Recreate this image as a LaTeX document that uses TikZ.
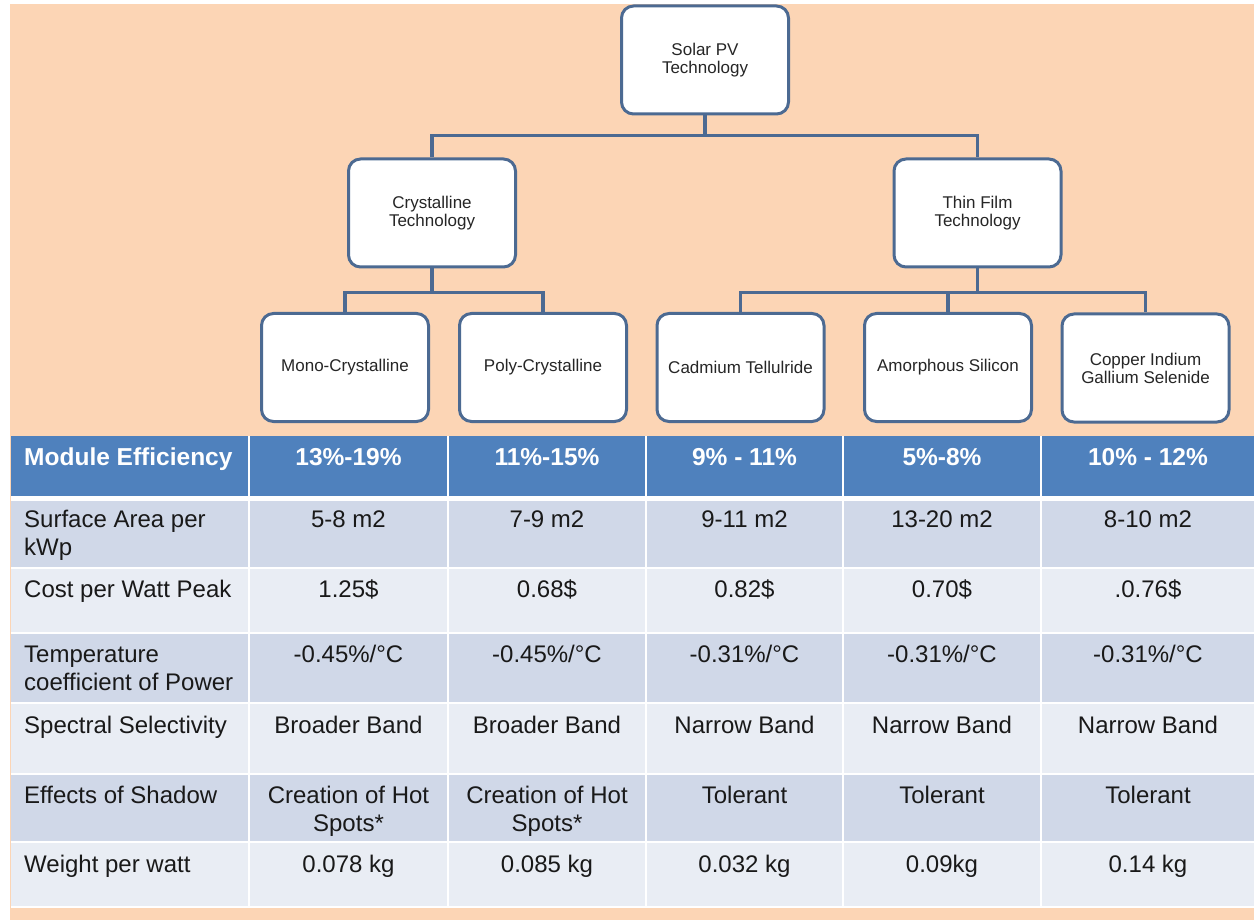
\documentclass[tikz,border=0pt]{standalone}
\usepackage{fontspec}
\setmainfont{Liberation Sans}
\definecolor{peach}{RGB}{252,213,181}
\definecolor{boxline}{RGB}{76,106,146}
\definecolor{hdr}{RGB}{79,129,189}
\definecolor{rowdark}{RGB}{208,216,232}
\definecolor{rowlight}{RGB}{233,237,244}
\newcommand\twoline[3]{\begin{tabular}[t]{@{}#1@{}}#2\\#3\end{tabular}}
\begin{document}
\begin{tikzpicture}[x=1pt,y=-1pt,
  tbox/.style={draw=boxline, line width=3pt, fill=white, rounded corners=12pt,
    minimum width=167pt, minimum height=108pt, align=center,
    font=\fontsize{17}{18}\selectfont, text=black!85, inner sep=0pt},
  conn/.style={draw=boxline, line width=3.5pt},
  cell/.style={anchor=base, font=\fontsize{24}{28}\selectfont, inner sep=0pt, text=black!90},
  lcell/.style={cell, anchor=base west},
  hcell/.style={anchor=base, font=\fontsize{24.5}{28}\selectfont\bfseries, inner sep=0pt, text=white},
  grid/.style={draw=white, line width=1.6pt}]
\useasboundingbox (0,0) rectangle (1254,920);
\fill[white] (0,0) rectangle (1254,920);
\fill[peach] (10,4) rectangle (1254,920);

% ---------- tree ----------
\node[tbox] (root)   at (705,60)    {Solar PV\\Technology};
\node[tbox] (cryst)  at (432,213)   {Crystalline\\Technology};
\node[tbox] (thin)   at (977.5,213) {Thin Film\\Technology};
\node[tbox] (mono)   at (345,367.5) {Mono-Crystalline};
\node[tbox] (poly)   at (543,367.5) {Poly-Crystalline};
\node[tbox] (cad)    at (740.5,367.5) {Cadmium Tellulride};
\node[tbox] (amor)   at (948,367.5) {Amorphous Silicon};
\node[tbox] (cigs)   at (1145.5,368) {Copper Indium\\Gallium Selenide};

\draw[conn] (root.south) -- ++(0,20) -| (cryst.north);
\draw[conn] (root.south) -- ++(0,20) -| (thin.north);
\draw[conn] (cryst.south) -- ++(0,24) -| (mono.north);
\draw[conn] (cryst.south) -- ++(0,24) -| (poly.north);
\draw[conn] (thin.south) -- ++(0,24) -| (cad.north);
\draw[conn] (thin.south) -- ++(0,24) -| (amor.north);
\draw[conn] (thin.south) -- ++(0,24) -| (cigs.north);

% ---------- table ----------
\fill[hdr] (11,436) rectangle (1254,496);
\fill[white] (11,496) rectangle (1254,501);
\fill[rowdark]  (11,501) rectangle (1254,568);
\fill[rowlight] (11,568) rectangle (1254,633);
\fill[rowdark]  (11,633) rectangle (1254,703);
\fill[rowlight] (11,703) rectangle (1254,774);
\fill[rowdark]  (11,774) rectangle (1254,842);
\fill[rowlight] (11,842) rectangle (1254,907);
\foreach \y in {568,633,703,774,842,907} \draw[grid] (11,\y) -- (1254,\y);
\foreach \x in {249,448,646,843,1041} \draw[grid] (\x,436) -- (\x,907);

% header
\node[hcell, anchor=base west] (h0) at (24,465) {Module Efficiency};
\node[hcell] (h1) at (348.5,465) {13\%-19\%};
\node[hcell] (h2) at (547,465)   {11\%-15\%};
\node[hcell] (h3) at (744.5,465) {9\% - 11\%};
\node[hcell] (h4) at (942,465)   {5\%-8\%};
\node[hcell] (h5) at (1148,465)  {10\% - 12\%};

% row 1
\node[lcell] (a0) at (24,527) {\twoline{l}{Surface Area per}{kWp}};
\node[cell] (a1) at (348.5,527) {5-8 m2};
\node[cell] (a2) at (547,527)   {7-9 m2};
\node[cell] (a3) at (744.5,527) {9-11 m2};
\node[cell] (a4) at (942,527)   {13-20 m2};
\node[cell] (a5) at (1148,527)  {8-10 m2};

% row 2
\node[lcell] (b0) at (24,597) {Cost per Watt Peak};
\node[cell] (b1) at (348.5,597) {1.25\$};
\node[cell] (b2) at (547,597)   {0.68\$};
\node[cell] (b3) at (744.5,597) {0.82\$};
\node[cell] (b4) at (942,597)   {0.70\$};
\node[cell] (b5) at (1148,597)  {.0.76\$};

% row 3
\node[lcell] (c0) at (24,662) {\twoline{l}{Temperature}{coefficient of Power}};
\node[cell] (c1) at (348.5,662) {-0.45\%/°C};
\node[cell] (c2) at (547,662)   {-0.45\%/°C};
\node[cell] (c3) at (744.5,662) {-0.31\%/°C};
\node[cell] (c4) at (942,662)   {-0.31\%/°C};
\node[cell] (c5) at (1148,662)  {-0.31\%/°C};

% row 4
\node[lcell] (d0) at (24,733) {Spectral Selectivity};
\node[cell] (d1) at (348.5,733) {Broader Band};
\node[cell] (d2) at (547,733)   {Broader Band};
\node[cell] (d3) at (744.5,733) {Narrow Band};
\node[cell] (d4) at (942,733)   {Narrow Band};
\node[cell] (d5) at (1148,733)  {Narrow Band};

% row 5
\node[lcell] (e0) at (24,803) {Effects of Shadow};
\node[cell] (e1) at (348.5,803) {\twoline{c}{Creation of Hot}{Spots*}};
\node[cell] (e2) at (547,803)   {\twoline{c}{Creation of Hot}{Spots*}};
\node[cell] (e3) at (744.5,803) {Tolerant};
\node[cell] (e4) at (942,803)   {Tolerant};
\node[cell] (e5) at (1148,803)  {Tolerant};

% row 6
\node[lcell] (f0) at (24,872) {Weight per watt};
\node[cell] (f1) at (348.5,872) {0.078 kg};
\node[cell] (f2) at (547,872)   {0.085 kg};
\node[cell] (f3) at (744.5,872) {0.032 kg};
\node[cell] (f4) at (942,872)   {0.09kg};
\node[cell] (f5) at (1148,872)  {0.14 kg};
\end{tikzpicture}
\end{document}
